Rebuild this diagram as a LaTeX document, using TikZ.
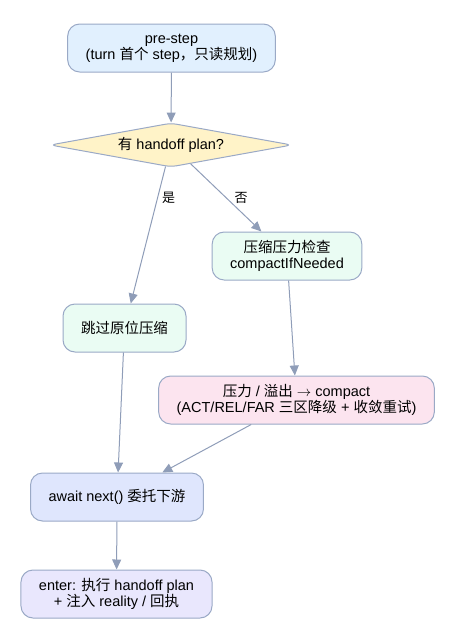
\documentclass[tikz,border=0pt]{standalone}
\usepackage{fontspec}
\setmainfont{Liberation Sans}
\newfontfamily\cjk{Noto Sans CJK SC}
\newcommand{\zh}[1]{{\cjk #1}}
\usetikzlibrary{shapes.geometric, arrows.meta}
\definecolor{edgegray}{RGB}{143,157,184}
\definecolor{linegray}{RGB}{154,169,198}
\definecolor{skyfill}{RGB}{225,240,254}
\definecolor{sandfill}{RGB}{255,243,200}
\definecolor{mintfill}{RGB}{234,252,243}
\definecolor{rosefill}{RGB}{252,228,239}
\definecolor{bluefill}{RGB}{223,230,253}
\definecolor{lilacfill}{RGB}{233,231,253}
\tikzset{box/.style = {draw=linegray, line width=1pt, rounded corners=12pt, minimum height=48pt, minimum width=123pt, inner xsep=18pt, align=center, font=\fontsize{14.5}{16}\selectfont}}
\tikzset{decision/.style = {draw=linegray, line width=1pt, shape=diamond, aspect=5.5, rounded corners=6pt, minimum width=242pt, minimum height=44pt, inner sep=0pt, font=\fontsize{14.5}{16}\selectfont}}
\tikzset{flow/.style = {draw=edgegray, line width=1pt, -{Triangle[length=10pt,width=9pt]}}}
\tikzset{tag/.style = {font=\fontsize{13}{15}\selectfont, inner sep=2pt}}

\begin{document}
\begin{tikzpicture}[x=1pt, y=-1pt]
		\useasboundingbox (0,0) rectangle (461,643);
		
		% Nodes
		\node[box, fill=skyfill] (prestep) at (171.5,48) {pre-step\\(turn \zh{首个} step\zh{，只读规划})};
		\node[decision, fill=sandfill] (plan) at (171,145) {\zh{有} handoff plan?};
		\node[box, fill=mintfill] (check) at (287,256) {\zh{压缩压力检查}\\compactIfNeeded};
		\node[box, fill=mintfill] (skip) at (124.5,328) {\zh{跳过原位压缩}};
		\node[box, fill=rosefill] (compact) at (296.5,400) {\zh{压力} / \zh{溢出} $\rightarrow$ compact\\(ACT/REL/FAR \zh{三区降级} + \zh{收敛重试})};
		\node[box, fill=bluefill] (await) at (117,497) {await next() \zh{委托下游}};
		\node[box, fill=lilacfill] (enter) at (116.5,594) {enter: \zh{执行} handoff plan\\+ \zh{注入} reality / \zh{回执}};
		
		% Edges
		\draw[flow] (prestep) -- (plan);
		\draw[flow] (plan) -- (skip) node[tag, pos=.23, right=2pt] {\zh{是}};
		\draw[flow] (plan) -- (check) node[tag, pos=.5, right=6pt] {\zh{否}};
		\draw[flow] (check) -- (compact);
		\draw[flow] (skip) -- (await);
		\draw[flow] (compact) -- (await);
		\draw[flow] (await) -- (enter);
	\end{tikzpicture}
\end{document}
